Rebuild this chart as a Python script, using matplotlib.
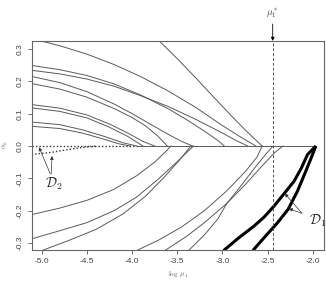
import matplotlib
matplotlib.use("Agg")
import matplotlib.pyplot as plt

plt.rcParams['font.family'] = ['Liberation Sans', 'DejaVu Sans']
plt.rcParams['mathtext.fontset'] = 'cm'

# thin paths above zero (x = log mu1, y = alpha_k)
up_x = [
    [-5.11, -4.8, -4.5, -4.2, -3.9, -3.6, -3.3, -3.0, -2.8, -2.63],
    [-5.11, -4.8, -4.5, -4.2, -3.9, -3.6, -3.4, -3.2, -3.05, -2.98],
    [-5.11, -4.8, -4.5, -4.2, -3.9, -3.6, -3.3, -3.0, -2.85, -2.72],
    [-5.11, -4.8, -4.5, -4.2, -4.0, -3.8, -3.6, -3.45, -3.33],
    [-5.11, -4.8, -4.5, -4.2, -4.0, -3.85, -3.72, -3.61],
    [-5.11, -4.8, -4.5, -4.25, -4.02, -3.88, -3.75],
    [-5.11, -4.8, -4.5, -4.25, -4.05, -3.88],
    [-5.11, -4.8, -4.55, -4.3, -4.1, -3.95],
    [-5.11, -4.8, -4.55, -4.3, -4.15, -4.02],
    [-3.70, -3.5, -3.3, -3.1, -2.9, -2.75, -2.63, -2.56],
]
up_y = [
    [0.332, 0.31, 0.284, 0.252, 0.214, 0.17, 0.12, 0.063, 0.028, 0.0],
    [0.249, 0.236, 0.218, 0.192, 0.157, 0.115, 0.082, 0.046, 0.017, 0.0],
    [0.234, 0.223, 0.207, 0.185, 0.155, 0.122, 0.083, 0.04, 0.017, 0.0],
    [0.215, 0.196, 0.168, 0.13, 0.10, 0.068, 0.036, 0.014, 0.0],
    [0.193, 0.176, 0.151, 0.116, 0.088, 0.062, 0.032, 0.0],
    [0.128, 0.117, 0.096, 0.068, 0.036, 0.014, 0.0],
    [0.118, 0.107, 0.087, 0.058, 0.03, 0.0],
    [0.074, 0.066, 0.05, 0.029, 0.01, 0.0],
    [0.061, 0.054, 0.04, 0.02, 0.007, 0.0],
    [0.325, 0.27, 0.212, 0.152, 0.093, 0.05, 0.018, 0.0],
]

# thin paths below zero
lo_x = [
    [-5.11, -4.8, -4.5, -4.2, -3.95, -3.75, -3.62, -3.57],
    [-5.11, -4.8, -4.5, -4.2, -3.95, -3.7, -3.5, -3.32],
    [-4.985, -4.7, -4.4, -4.1, -3.85, -3.65, -3.48, -3.35],
    [-3.94, -3.7, -3.45, -3.2, -2.95, -2.75, -2.62, -2.56],
    [-3.63, -3.4, -3.2, -2.95, -2.75, -2.55, -2.42, -2.33],
    [-3.37, -3.2, -3.05, -2.95, -2.8, -2.65, -2.52, -2.44],
]
lo_y = [
    [-0.212, -0.192, -0.168, -0.134, -0.092, -0.05, -0.015, 0.0],
    [-0.287, -0.262, -0.237, -0.2, -0.158, -0.1, -0.048, 0.0],
    [-0.322, -0.292, -0.258, -0.21, -0.155, -0.098, -0.045, 0.0],
    [-0.322, -0.29, -0.25, -0.2, -0.138, -0.08, -0.035, 0.0],
    [-0.322, -0.28, -0.237, -0.177, -0.12, -0.058, -0.02, 0.0],
    [-0.322, -0.275, -0.225, -0.177, -0.125, -0.07, -0.025, 0.0],
]

# D2: dotted paths
d2_x = [[-5.11, -3.95], [-5.11, -4.9, -4.6, -4.4]]
d2_y = [[0.0, 0.0], [-0.026, -0.02, -0.006, 0.0]]

# D1: thick paths
d1_x = [[-2.986, -2.82, -2.652, -2.54, -2.43, -2.32, -2.208, -2.13, -2.06, -1.967],
        [-2.663, -2.541, -2.393, -2.274, -2.171, -2.078, -2.004, -1.967]]
d1_y = [[-0.323, -0.284, -0.248, -0.22, -0.186, -0.148, -0.109, -0.07, -0.027, 0.0],
        [-0.323, -0.284, -0.238, -0.196, -0.14, -0.078, -0.027, 0.0]]

zero_x = [-3.95, -1.967]
mu_star = -2.444

xticks = [-5.0, -4.5, -4.0, -3.5, -3.0, -2.5, -2.0]
yticks = [-0.3, -0.2, -0.1, 0.0, 0.1, 0.2, 0.3]

fig = plt.figure(figsize=(3.26, 2.82), dpi=100)
ax = fig.add_axes([0.098, 0.113, 0.896, 0.742])

thin = dict(color='#5a5a5a', lw=0.7)
for xs, ys in zip(up_x, up_y):
    ax.plot(xs, ys, **thin)
for xs, ys in zip(lo_x, lo_y):
    ax.plot(xs, ys, **thin)
ax.plot(zero_x, [0, 0], **thin)
for xs, ys in zip(d2_x, d2_y):
    ax.plot(xs, ys, color='#333333', lw=1.0, ls=(0, (1, 1.5)))
for xs, ys in zip(d1_x, d1_y):
    ax.plot(xs, ys, color='black', lw=2.2, solid_capstyle='butt')

ax.axvline(mu_star, color='#555555', lw=0.7, ls=(0, (3, 2)))

ax.set_xlim(-5.108, -1.876)
ax.set_ylim(-0.322, 0.325)
ax.set_xticks(xticks)
ax.set_xticklabels(['%.1f' % t for t in xticks])
ax.set_yticks(yticks)
ax.set_yticklabels(['%.1f' % t for t in yticks], rotation=90, va='center')
ax.tick_params(labelsize=6, length=3, width=0.6, color='#555555',
               labelcolor='#444444', pad=3)
for s in ax.spines.values():
    s.set_color('#666666')
    s.set_linewidth(0.8)

# mu1* label with arrow to top edge
ax.annotate(r'$\mu_1^*$', xy=(mu_star, 0.325), xytext=(mu_star, 0.39),
            ha='center', va='bottom', fontsize=7, color='#444444',
            annotation_clip=False,
            arrowprops=dict(arrowstyle='-|>', color='black', lw=0.6,
                            mutation_scale=5, shrinkA=1, shrinkB=0))

# D2 label and arrows
ax.text(-4.87, -0.118, r'$\mathcal{D}_2$', fontsize=10, ha='center',
        va='center', color='#222222')
aprops = dict(arrowstyle='-|>', color='#333333', lw=0.5,
              mutation_scale=5, shrinkA=0, shrinkB=0)
ax.annotate('', xy=(-5.03, -0.004), xytext=(-4.905, -0.086), arrowprops=aprops)
ax.annotate('', xy=(-4.886, -0.031), xytext=(-4.895, -0.086), arrowprops=aprops)

# D1 label and arrows
ax.text(-1.95, -0.232, r'$\mathcal{D}_1$', fontsize=10, ha='center',
        va='center', color='#222222')
ax.annotate('', xy=(-2.31, -0.147), xytext=(-2.12, -0.208), arrowprops=aprops)
ax.annotate('', xy=(-2.265, -0.194), xytext=(-2.12, -0.208), arrowprops=aprops)

fig.text(5 / 326, 1 - 145 / 282, r'$\alpha_k$', rotation=90, fontsize=5,
         ha='center', va='center', color='#555555')
fig.text(178 / 326, 1 - 275 / 282, r'$\log\ \mu_1$', fontsize=5,
         ha='center', va='center', color='#555555')

fig.savefig('out.png', dpi=100)
